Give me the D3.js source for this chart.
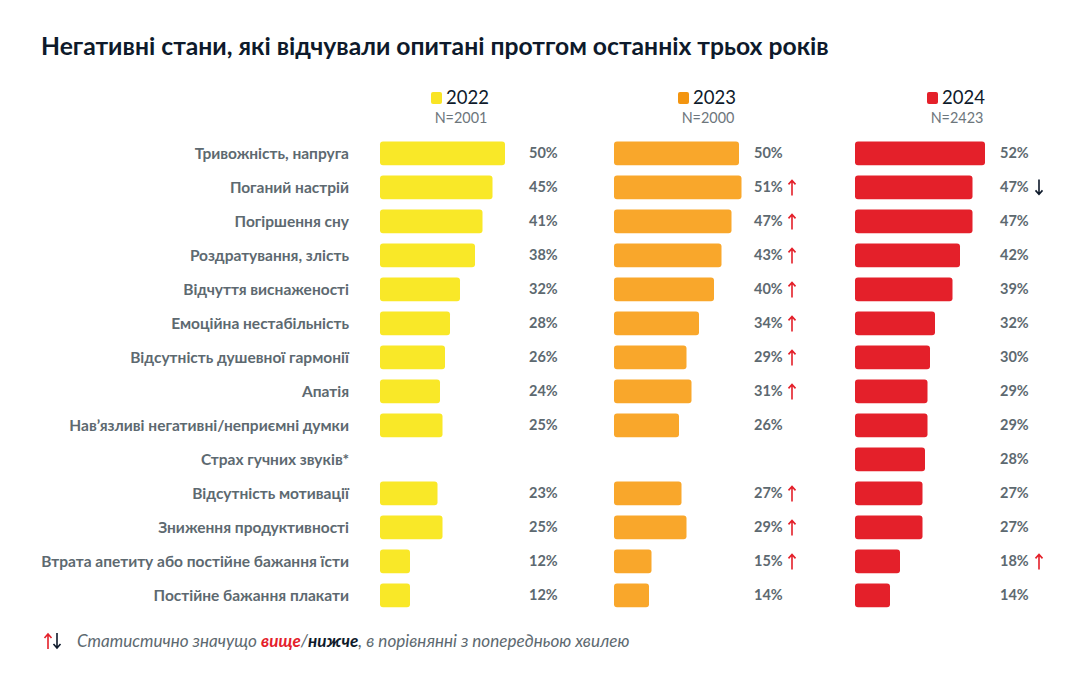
<!DOCTYPE html>
<html>
<head>
<meta charset="utf-8">
<script src="https://cdn.jsdelivr.net/npm/d3@7"></script>
<style>
  body { margin: 0; background: #fff; font-family: Lato, "Noto Sans", sans-serif; }
</style>
</head>
<body>
<div id="chart"></div>
<script>
// data
var categories = [
  "Тривожність, напруга",
  "Поганий настрій",
  "Погіршення сну",
  "Роздратування, злість",
  "Відчуття виснаженості",
  "Емоційна нестабільність",
  "Відсутність душевної гармонії",
  "Апатія",
  "Нав’язливі негативні/неприємні думки",
  "Страх гучних звуків*",
  "Відсутність мотивації",
  "Зниження продуктивності",
  "Втрата апетиту або постійне бажання їсти",
  "Постійне бажання плакати"
];
var years = ["2022", "2023", "2024"];
var sampleSizes = ["N=2001", "N=2000", "N=2423"];
var values2022 = [50, 45, 41, 38, 32, 28, 26, 24, 25, null, 23, 25, 12, 12];
var values2023 = [50, 51, 47, 43, 40, 34, 29, 31, 26, null, 27, 29, 15, 14];
var values2024 = [52, 47, 47, 42, 39, 32, 30, 29, 29, 28, 27, 27, 18, 14];
var sig2022 = ["", "", "", "", "", "", "", "", "", "", "", "", "", ""];
var sig2023 = ["", "up", "up", "up", "up", "up", "up", "up", "", "", "up", "up", "up", ""];
var sig2024 = ["", "down", "", "", "", "", "", "", "", "", "", "", "up", ""];

var width = 1087, height = 680;
var dark = "#0e1a2b", grey = "#5d6970", red = "#e4202a";

var svg = d3.select("#chart")
  .append("svg")
  .attr("width", width)
  .attr("height", height);

// title
svg.append("text")
  .attr("x", 41)
  .attr("y", 55)
  .attr("font-size", "24.7px")
  .attr("font-weight", "bold")
  .attr("fill", dark)
  .text("Негативні стани, які відчували опитані протгом останніх трьох років");

// scales
var y = d3.scaleBand()
  .domain(categories)
  .range([131.3, 617.5])
  .paddingInner(0.3)
  .paddingOuter(0.3);

var x = d3.scaleLinear().domain([0, 100]).range([0, 250]);

var columns = [
  {year: years[0], n: sampleSizes[0], values: values2022, sig: sig2022, x0: 380, labelX: 529, arrowX: 0,   fill: "#f9e828", key: "#f9e424", legendX: 431},
  {year: years[1], n: sampleSizes[1], values: values2023, sig: sig2023, x0: 614, labelX: 754, arrowX: 792, fill: "#f9a72b", key: "#f39510", legendX: 678},
  {year: years[2], n: sampleSizes[2], values: values2024, sig: sig2024, x0: 855, labelX: 1000, arrowX: 1039, fill: "#e4202a", key: "#e4202a", legendX: 927}
];

// category labels
svg.append("g")
  .selectAll("text")
  .data(categories)
  .enter()
  .append("text")
    .attr("x", 349)
    .attr("y", function(d){ return y(d) + y.bandwidth() / 2; })
    .attr("dy", "0.35em")
    .attr("text-anchor", "end")
    .attr("font-size", "15.5px")
    .attr("font-weight", "bold")
    .attr("fill", grey)
    .text(function(d){ return d; });

columns.forEach(function(col) {
  var g = svg.append("g");
  var rows = categories.map(function(c, i){ return {cat: c, v: col.values[i], sig: col.sig[i]}; })
    .filter(function(d){ return d.v != null; });

  // legend
  g.append("rect")
    .attr("x", col.legendX)
    .attr("y", 92)
    .attr("width", 11)
    .attr("height", 12)
    .attr("rx", 2)
    .attr("fill", col.key);
  g.append("text")
    .attr("x", col.legendX + 15)
    .attr("y", 104)
    .attr("font-size", "18.5px")
    .attr("fill", dark)
    .text(col.year);
  g.append("text")
    .attr("x", col.legendX + 30)
    .attr("y", 123)
    .attr("text-anchor", "middle")
    .attr("font-size", "14.4px")
    .attr("fill", "#6d767c")
    .text(col.n);

  // bars
  g.selectAll("rect.bar")
    .data(rows)
    .enter()
    .append("rect")
      .attr("class", "bar")
      .attr("x", col.x0)
      .attr("y", function(d){ return y(d.cat); })
      .attr("width", function(d){ return x(d.v); })
      .attr("height", y.bandwidth())
      .attr("rx", 3)
      .attr("fill", col.fill);

  // values
  g.selectAll("text.val")
    .data(rows)
    .enter()
    .append("text")
      .attr("class", "val")
      .attr("x", col.labelX)
      .attr("y", function(d){ return y(d.cat) + y.bandwidth() / 2; })
      .attr("dy", "0.35em")
      .attr("font-size", "14.5px")
      .attr("font-weight", "bold")
      .attr("fill", grey)
      .text(function(d){ return d.v + "%"; });

  // significance arrows
  g.selectAll("path.arrow")
    .data(rows.filter(function(d){ return d.sig; }))
    .enter()
    .append("path")
      .attr("class", "arrow")
      .attr("fill", "none")
      .attr("stroke", function(d){ return d.sig == "up" ? red : dark; })
      .attr("stroke-width", 1.6)
      .attr("d", function(d){
        var cy = y(d.cat) + y.bandwidth() / 2, ax = col.arrowX;
        if (d.sig == "up")
          return "M" + ax + "," + (cy + 8) + "V" + (cy - 7) + "M" + (ax - 3.5) + "," + (cy - 3) + "L" + ax + "," + (cy - 7) + "L" + (ax + 3.5) + "," + (cy - 3);
        return "M" + ax + "," + (cy - 8) + "V" + (cy + 7) + "M" + (ax - 3.5) + "," + (cy + 3) + "L" + ax + "," + (cy + 7) + "L" + (ax + 3.5) + "," + (cy + 3);
      });
});

// footnote
var fy = 641;
svg.append("path")
  .attr("fill", "none").attr("stroke", red).attr("stroke-width", 1.6)
  .attr("d", "M48," + (fy + 8) + "V" + (fy - 7) + "M44.5," + (fy - 3) + "L48," + (fy - 7) + "L51.5," + (fy - 3));
svg.append("path")
  .attr("fill", "none").attr("stroke", dark).attr("stroke-width", 1.6)
  .attr("d", "M57," + (fy - 8) + "V" + (fy + 7) + "M53.5," + (fy + 3) + "L57," + (fy + 7) + "L60.5," + (fy + 3));

var note = svg.append("text")
  .attr("x", 77)
  .attr("y", fy + 6)
  .attr("font-size", "17.1px")
  .attr("font-style", "italic")
  .attr("fill", grey);
note.append("tspan").text("Статистично значущо ");
note.append("tspan").attr("font-weight", "bold").attr("fill", red).text("вище");
note.append("tspan").text("/");
note.append("tspan").attr("font-weight", "bold").attr("fill", dark).text("нижче");
note.append("tspan").text(", в порівнянні з попередньою хвилею");
</script>
</body>
</html>
